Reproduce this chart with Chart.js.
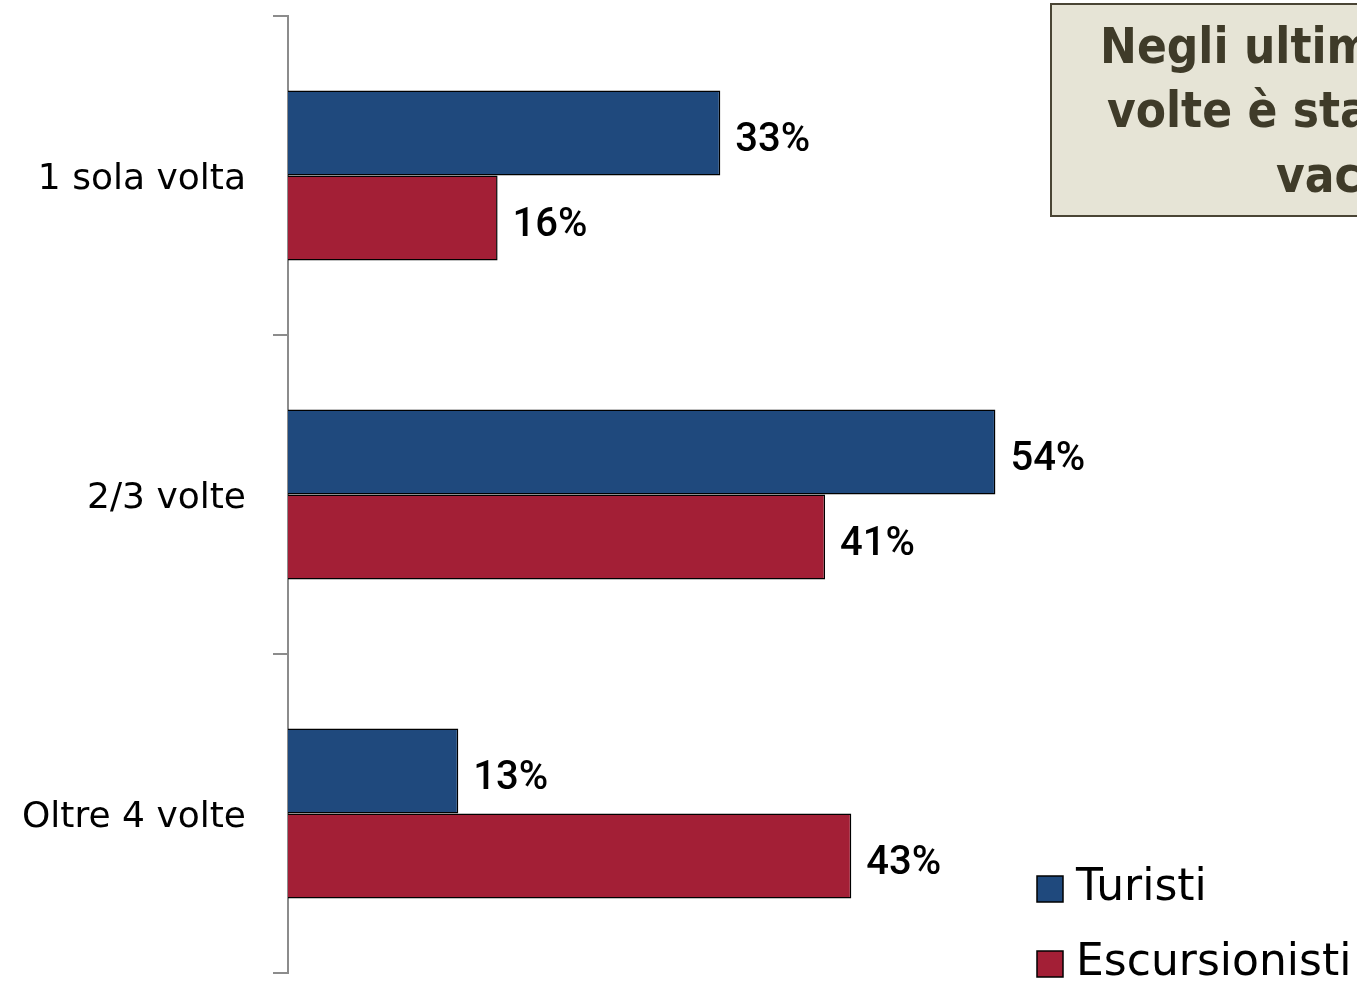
<!DOCTYPE html>
<html>
<head>
<meta charset="utf-8">
<script src="https://cdn.jsdelivr.net/npm/chart.js@4/dist/chart.umd.min.js"></script>
<style>
  html, body { margin: 0; padding: 0; background: #fff; overflow: hidden; }
  #wrap { position: relative; width: 1600px; height: 981px; }
</style>
</head>
<body>
<div id="wrap"><canvas id="c" width="1600" height="981"></canvas></div>
<script>
// Categories and series values (percentages)
const categories = ['1 sola volta', '2/3 volte', 'Oltre 4 volte'];
const turisti = [33, 54, 13];
const escursionisti = [16, 41, 43];
const seriesNames = ['Turisti', 'Escursionisti'];
const titleLines = ['Negli ultimi', 'volte è stato', 'vacanza'];

const BLUE = '#1F497D';
const RED = '#A31F36';
const CAT_FONT = '"DejaVu Sans", sans-serif';
const TITLE_FONT = '"DejaVu Sans Condensed", "DejaVu Sans", sans-serif';

// Value labels at the end of each bar
const valueLabels = {
  id: 'valueLabels',
  afterDatasetsDraw(chart) {
    const ctx = chart.ctx;
    ctx.save();
    ctx.font = '500 40px Roboto, sans-serif';
    ctx.fillStyle = '#000';
    ctx.textAlign = 'left';
    ctx.textBaseline = 'middle';
    chart.data.datasets.forEach((ds, i) => {
      chart.getDatasetMeta(i).data.forEach((bar, j) => {
        ctx.fillText(ds.data[j] + '%', bar.x + 15, bar.y + 8);
      });
    });
    ctx.restore();
  }
};

// Question box at the top right and legend at the bottom right
const decorations = {
  id: 'decorations',
  afterDraw(chart) {
    const ctx = chart.ctx;
    ctx.save();
    // boxed title
    ctx.fillStyle = '#E6E4D6';
    ctx.strokeStyle = '#4A4535';
    ctx.lineWidth = 2;
    ctx.fillRect(1051, 4, 560, 212);
    ctx.strokeRect(1051, 4, 560, 212);
    ctx.fillStyle = '#3F3B29';
    ctx.font = 'bold 49px ' + TITLE_FONT;
    ctx.textAlign = 'left';
    ctx.textBaseline = 'middle';
    const xs = [1100, 1107, 1276];
    const ys = [50, 114, 179];
    titleLines.forEach((t, i) => ctx.fillText(t, xs[i], ys[i]));

    // legend
    const colors = chart.data.datasets.map(d => d.backgroundColor);
    const ly = [889, 964];
    ctx.font = '44px ' + CAT_FONT;
    ctx.textBaseline = 'middle';
    seriesNames.forEach((name, i) => {
      ctx.fillStyle = colors[i];
      ctx.fillRect(1037, ly[i] - 13, 26, 26);
      ctx.strokeStyle = '#000';
      ctx.lineWidth = 1.5;
      ctx.strokeRect(1037, ly[i] - 13, 26, 26);
      ctx.fillStyle = '#000';
      ctx.fillText(name, 1076, ly[i]);
    });
    ctx.restore();
  }
};

new Chart(document.getElementById('c'), {
  type: 'bar',
  data: {
    labels: categories,
    datasets: [
      { label: seriesNames[0], data: turisti, backgroundColor: BLUE, borderColor: '#000', borderWidth: 1.5 },
      { label: seriesNames[1], data: escursionisti, backgroundColor: RED, borderColor: '#000', borderWidth: 1.5 }
    ]
  },
  options: {
    indexAxis: 'y',
    responsive: false,
    animation: false,
    devicePixelRatio: 1,
    layout: { padding: { top: 16, bottom: 8, left: 0, right: 2 } },
    datasets: { bar: { barPercentage: 1, categoryPercentage: 0.533 } },
    plugins: { legend: { display: false }, tooltip: { enabled: false } },
    scales: {
      x: {
        display: false,
        min: 0,
        max: 100
      },
      y: {
        afterFit(scale) {
          scale.width = 288;
          scale.paddingTop = 0;
          scale.paddingBottom = 0;
        },
        grid: {
          offset: true,
          drawOnChartArea: false,
          drawTicks: true,
          tickLength: 15,
          color: '#8C8C8C',
          lineWidth: 2
        },
        border: { display: true, color: '#8C8C8C', width: 2 },
        ticks: {
          color: '#000',
          padding: 27,
          labelOffset: 4,
          font: { family: CAT_FONT, size: 36 }
        }
      }
    }
  },
  plugins: [valueLabels, decorations]
});
</script>
</body>
</html>
